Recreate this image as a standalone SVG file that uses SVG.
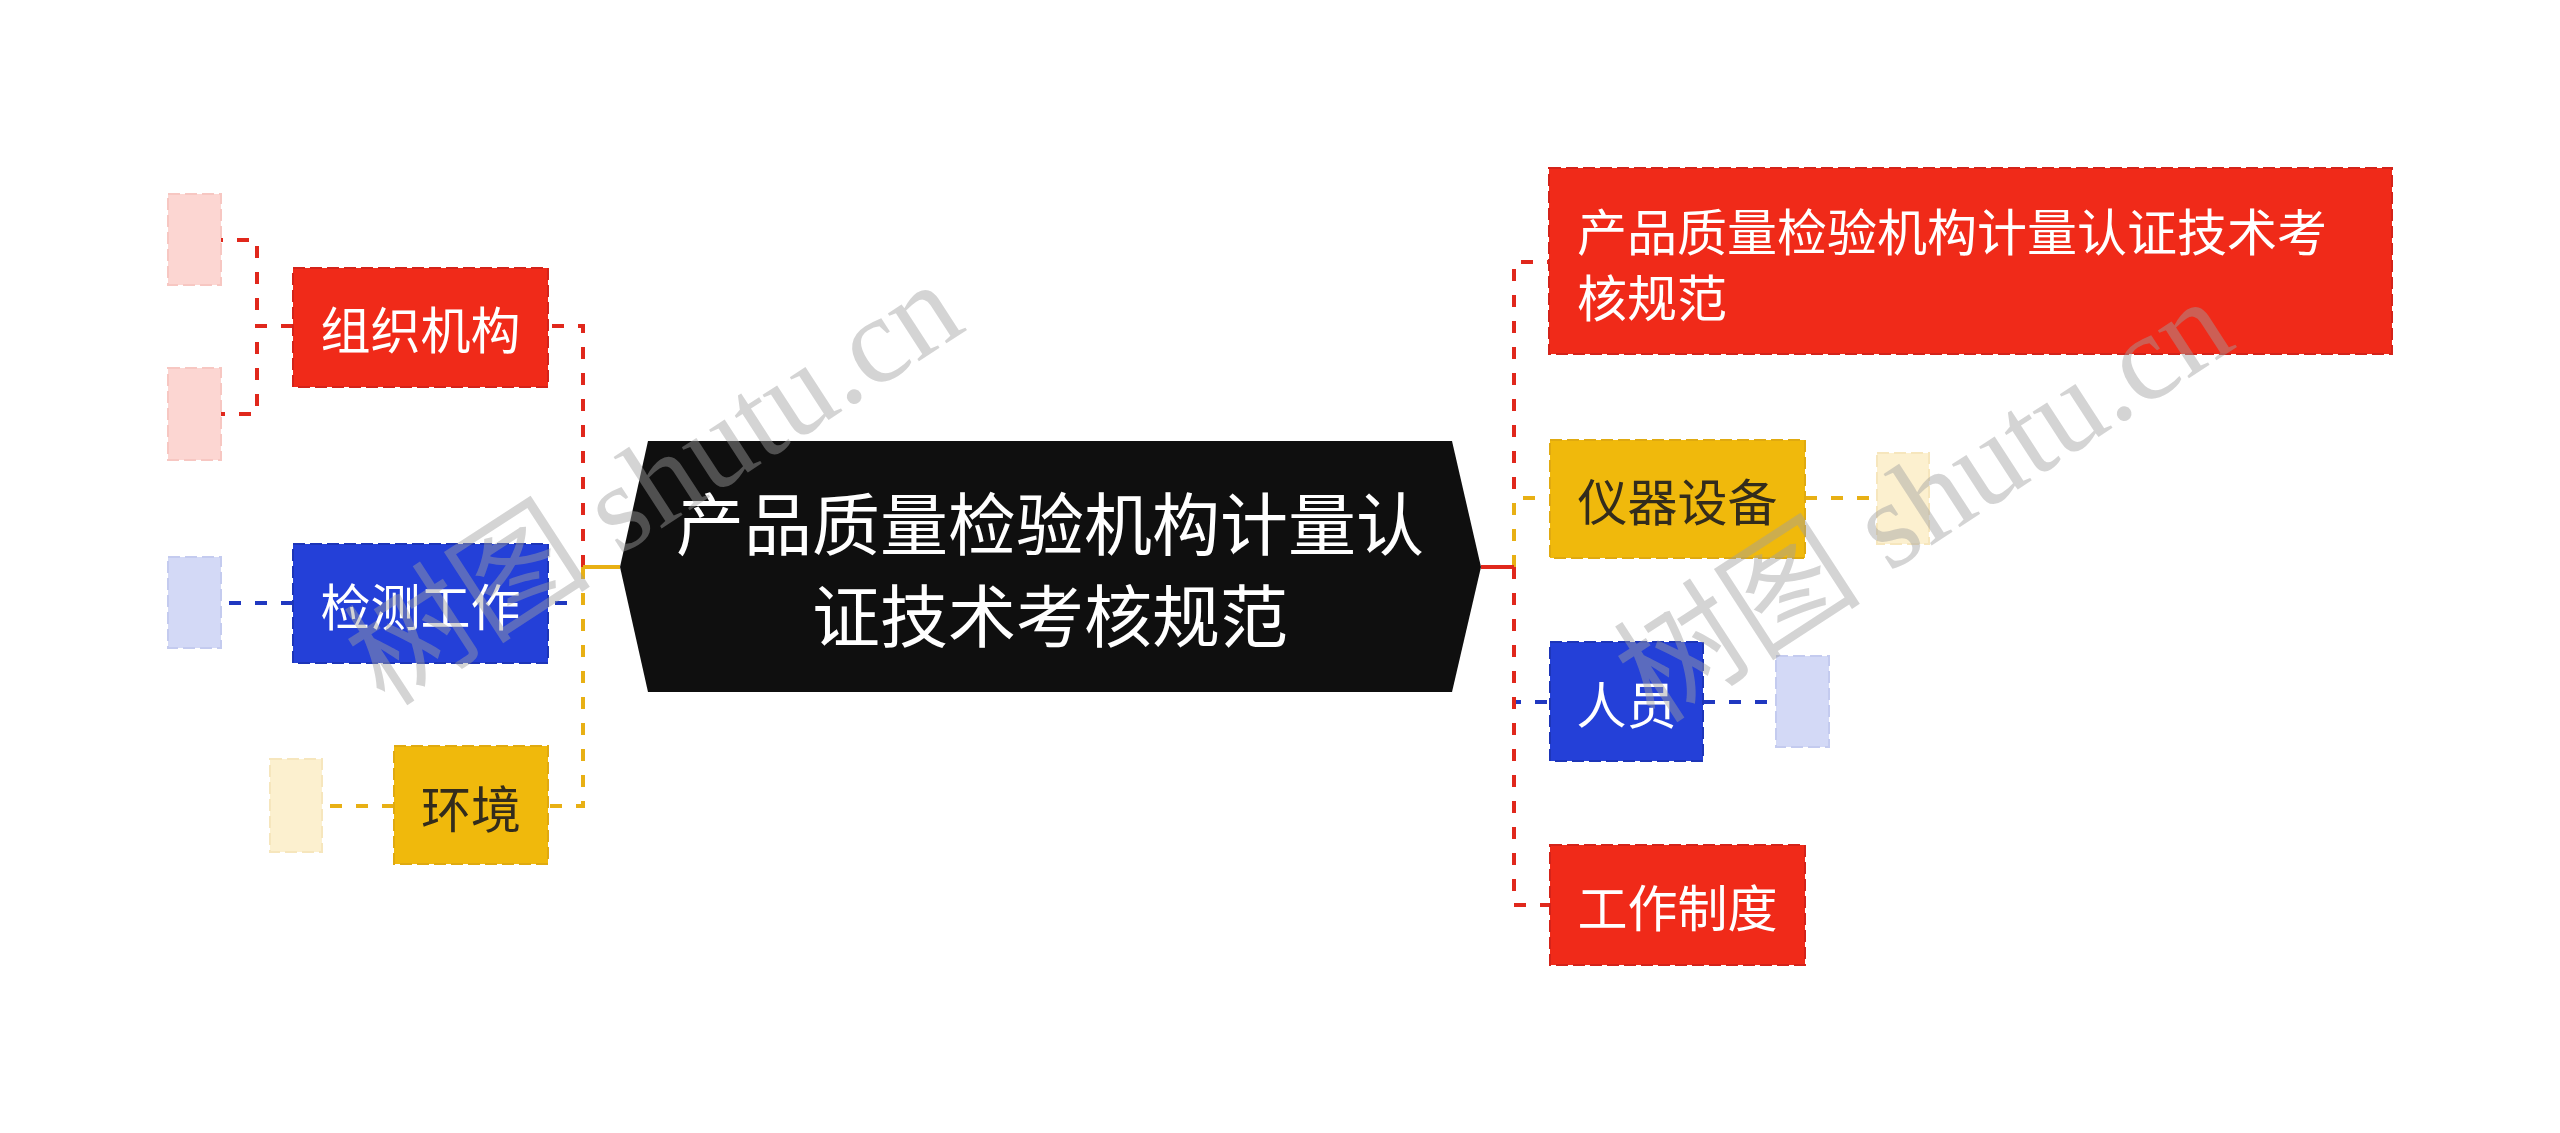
<svg xmlns="http://www.w3.org/2000/svg" width="2560" height="1133" viewBox="0 0 2560 1133">
<style>
.t{font-family:"Noto Sans CJK SC","Noto Sans",sans-serif;font-size:50px;dominant-baseline:central}
.w{fill:#ffffff}
.d{fill:#332c1c}
.c{text-anchor:middle}
.box{stroke-width:2;stroke-dasharray:12 5}
.leaf{stroke-width:2;stroke-dasharray:12 5}
.ln{fill:none;stroke-width:4;stroke-dasharray:12 14}
.solid{fill:none;stroke-width:4}
.red{fill:#f02a19;stroke:#d4231a}
.blue{fill:#2440d8;stroke:#1d35b8}
.yel{fill:#f0b90c;stroke:#e0aa10}
.lred{fill:#fcd6d2;stroke:#f7c7c2}
.lblue{fill:#d3d9f6;stroke:#c4cbef}
.lyel{fill:#fcf0cf;stroke:#f6e6bd}
.sr{stroke:#e0281c}
.sb{stroke:#2038c0}
.sy{stroke:#e8b014}
.wm{font-family:"Liberation Serif","Noto Sans CJK SC",serif;font-size:124px;fill:#a0a0a0;fill-opacity:0.45}
</style>
<g id="connectors">
<path class="ln sr" d="M583,567 V326 H548"/>
<path class="ln sb" d="M583,567 V603 H548"/>
<path class="ln sy" d="M583,567 V806 H548"/>
<path class="solid sy" d="M620,567 H583"/>
<path class="ln sr" d="M1514,567 V262 H1548"/>
<path class="ln sb" d="M1514,567 V702 H1550"/>
<path class="ln sr" d="M1514,567 V905 H1550"/>
<path class="ln sy" d="M1514,567 V498 H1550"/>
<path class="solid sr" d="M1481,567 H1514"/>
<path class="ln sr" d="M293,326 H257 V240 H221"/>
<path class="ln sr" d="M293,326 H257 V414 H221"/>
<path class="ln sb" d="M293,603 H221"/>
<path class="ln sy" d="M394,806 H322"/>
<path class="ln sy" d="M1805,498 H1877"/>
<path class="ln sb" d="M1703,702 H1776"/>
</g>
<g id="root">
<polygon points="648,441 1452,441 1481,567 1452,692 648,692 620,567" fill="#0f0f0f"/>
<text class="t w c" x="1050" y="520" style="font-size:68px">产品质量检验机构计量认</text>
<text class="t w c" x="1050" y="612" style="font-size:68px">证技术考核规范</text>
</g>
<g id="n-zuzhi">
<rect class="box red" x="293" y="268" width="255" height="119"/>
<text class="t w c" x="420.5" y="327">组织机构</text>
</g>
<g id="n-jiance">
<rect class="box blue" x="293" y="544" width="255" height="119"/>
<text class="t w c" x="420.5" y="604">检测工作</text>
</g>
<g id="n-huanjing">
<rect class="box yel" x="394" y="746" width="154" height="118"/>
<text class="t d c" x="471" y="806">环境</text>
</g>
<g id="n-title">
<rect class="box red" x="1549" y="168" width="843" height="186"/>
<text class="t w" x="1577" y="229">产品质量检验机构计量认证技术考</text>
<text class="t w" x="1577" y="295">核规范</text>
</g>
<g id="n-yiqi">
<rect class="box yel" x="1550" y="440" width="255" height="118"/>
<text class="t d c" x="1677.5" y="499">仪器设备</text>
</g>
<g id="n-renyuan">
<rect class="box blue" x="1550" y="642" width="153" height="119"/>
<text class="t w c" x="1626.5" y="702">人员</text>
</g>
<g id="n-zhidu">
<rect class="box red" x="1550" y="845" width="255" height="120"/>
<text class="t w c" x="1677.5" y="905">工作制度</text>
</g>
<g id="leaves">
<rect id="leaf-1" class="leaf lred" x="168" y="194" width="53" height="91"/>
<rect id="leaf-2" class="leaf lred" x="168" y="368" width="53" height="92"/>
<rect id="leaf-3" class="leaf lblue" x="168" y="557" width="53" height="91"/>
<rect id="leaf-4" class="leaf lyel" x="270" y="759" width="52" height="93"/>
<rect id="leaf-5" class="leaf lyel" x="1877" y="453" width="52" height="91"/>
<rect id="leaf-6" class="leaf lblue" x="1776" y="656" width="53" height="91"/>
</g>
<g id="watermark">
<text class="wm" transform="translate(385,708) rotate(-33)">树图 shutu.cn</text>
<text class="wm" transform="translate(1655,725) rotate(-33)">树图 shutu.cn</text>
</g>
</svg>
